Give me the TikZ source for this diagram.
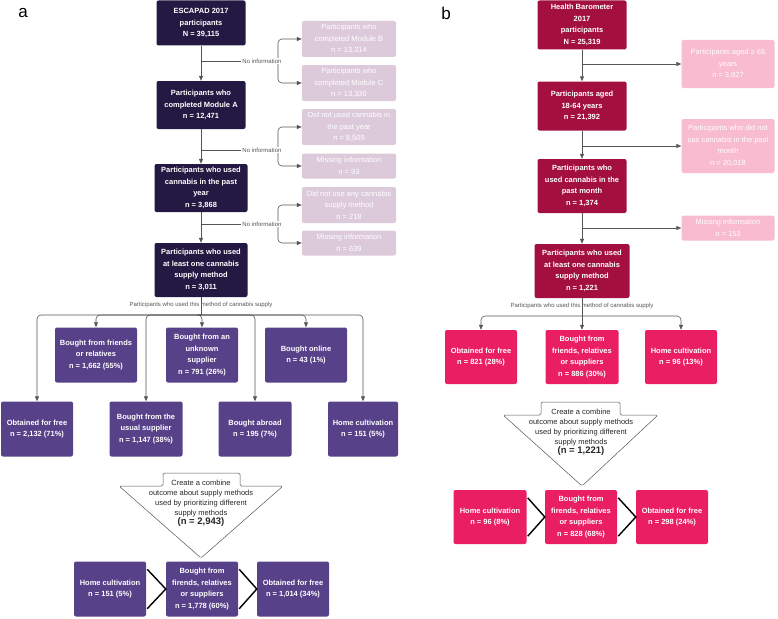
\documentclass[tikz,border=0pt]{standalone}
\usepackage{fontspec}
\setmainfont{Liberation Sans}
\usetikzlibrary{arrows.meta,calc}
\definecolor{navy}{HTML}{231942}
\definecolor{violet}{HTML}{574189}
\definecolor{lilac}{HTML}{DCCADB}
\definecolor{crimson}{HTML}{A3103F}
\definecolor{rose}{HTML}{E91E63}
\definecolor{blush}{HTML}{F8BBCF}
\definecolor{lineg}{HTML}{555555}
\tikzset{
	box/.style={rectangle, rounded corners=2pt, align=center, text=white, inner sep=1pt,
		font=\fontsize{7.5}{11.5}\selectfont\bfseries},
	mainbox/.style={box, fill=navy},
	subbox/.style={box, fill=violet, minimum width=72, minimum height=55},
	exbox/.style={box, fill=lilac, minimum width=94, font=\fontsize{7.5}{11.5}\selectfont},
	bmain/.style={box, fill=crimson},
	bsub/.style={box, fill=rose, minimum width=72, minimum height=54},
	bex/.style={box, fill=blush, minimum width=93, font=\fontsize{7.5}{11.5}\selectfont},
	link/.style={draw=lineg, line width=0.6pt},
	arr/.style={link, -{Triangle[length=5pt,width=4pt]}},
	chev/.style={draw=black, line width=1.4pt},
	note/.style={font=\fontsize{6}{7}\selectfont, text=lineg, inner sep=1pt},
	tri/.style={draw=lineg, line width=0.5pt, fill=white, rounded corners=1.5pt},
	tritext/.style={align=center, font=\fontsize{7.5}{10}\selectfont, text=black!85}
}
\begin{document}
\begin{tikzpicture}[x=1pt,y=-1pt]
	\useasboundingbox (0,0) rectangle (778,618);

	% ================= PANEL a =================
	\node[font=\fontsize{17}{17}\selectfont] (la) at (23,13) {a};

	% main chain
	\node[mainbox, minimum width=89, minimum height=45] (a0) at (201,23) {ESCAPAD 2017\\participants\\N = 39,115};
	\node[mainbox, minimum width=89, minimum height=48] (a1) at (201,105) {Participants who\\completed Module A\\n = 12,471};
	\node[mainbox, minimum width=93, minimum height=48] (a2) at (201,188) {Participants who used\\cannabis in the past\\year\\n = 3,868};
	\node[mainbox, minimum width=93, minimum height=54] (a3) at (201,270) {Participants who used\\at least one cannabis\\supply method\\n = 3,011};

	% excluded
	\node[exbox, minimum height=36] (p1) at (349,39) {Participants who\\completed Module B\\n = 13,314};
	\node[exbox, minimum height=36] (p2) at (349,83) {Participants who\\completed Module C\\n = 13,330};
	\node[exbox, minimum height=36] (p3) at (349,127) {Did not used cannabis in\\the past year\\n = 8,509};
	\node[exbox, minimum height=25] (p4) at (349,166) {Missing information\\n = 93};
	\node[exbox, minimum height=36] (p5) at (349,205) {Did not use any cannabis\\supply method\\n = 218};
	\node[exbox, minimum height=25] (p6) at (349,243) {Missing information\\n = 639};

	\draw[arr] (a0) -- (a1);
	\draw[arr] (a1) -- (a2);
	\draw[arr] (a2) -- (a3);

	% branches
	\foreach \y/\u/\v/\i in {61/p1/p2/1, 150/p3/p4/2, 224/p5/p6/3}{
		\coordinate (j\i) at (201,\y);
		\coordinate (k\i) at (278,\y);
		\draw[link] (j\i) -- (k\i);
		\draw[arr, rounded corners=4pt] (k\i) |- (\u);
		\draw[arr, rounded corners=4pt] (k\i) |- (\v);
		\node[note, fill=white] (ni\i) at (262,\y) {No information};
	}

	% supply methods
	\node[note] (ua) at (201,305) {Participants who used this method of cannabis supply};
	\coordinate (fa) at (201,315);
	\draw[link] (a3) -- (fa);

	\node[subbox, minimum width=82] (b1) at (96,355) {Bought from friends\\or relatives\\n = 1,662 (55\%)};
	\node[subbox] (b2) at (202,355) {Bought from an\\unknown\\supplier\\n = 791 (26\%)};
	\node[subbox, minimum width=82] (b3) at (306,355) {Bought online\\n = 43 (1\%)};
	\node[subbox] (c1) at (37,429) {Obtained for free\\n = 2,132 (71\%)};
	\node[subbox, minimum width=73] (c2) at (146,429) {Bought from the\\usual supplier\\n = 1,147 (38\%)};
	\node[subbox, minimum width=73] (c3) at (255,429) {Bought abroad\\n = 195 (7\%)};
	\node[subbox, minimum width=70] (c4) at (363,429) {Home cultivation\\n = 151 (5\%)};

	\foreach \t in {b1,b2,b3,c1,c2,c3,c4}
		\draw[arr, rounded corners=4pt] (fa) -| (\t);

	% combine
	\draw[tri] (163,486) -- (163,473) -- (240,473) -- (240,486) -- (283,486) -- (201,558) -- (119,486) -- cycle;
	\node[tritext] (ca) at (201,503) {Create a combine\\outcome about supply methods\\used by prioritizing different\\supply methods\\[-1pt]{\fontsize{9.5}{11}\selectfont\bfseries (n = 2,943)}};

	\node[subbox] (d1) at (110,589) {Home cultivation\\n = 151 (5\%)};
	\node[subbox] (d2) at (202,589) {Bought from\\firends, relatives\\or suppliers\\n = 1,778 (60\%)};
	\node[subbox] (d3) at (293,589) {Obtained for free\\n = 1,014 (34\%)};
	\draw[chev] (d1.north east) ++(1,8) -- (d2.west) -- ($(d1.south east)+(1,-8)$);
	\draw[chev] (d2.north east) ++(1,8) -- (d3.west) -- ($(d2.south east)+(1,-8)$);

	% ================= PANEL b =================
	\node[font=\fontsize{17}{17}\selectfont] (lb) at (446,13) {b};

	\node[bmain, minimum width=89, minimum height=49] (r0) at (582,25) {Health Barometer\\2017\\participants\\N = 25,319};
	\node[bmain, minimum width=89, minimum height=49] (r1) at (582,106) {Participants aged\\18-64 years\\n = 21,392};
	\node[bmain, minimum width=89, minimum height=54] (r2) at (582,186) {Participants who\\used cannabis in the\\past month\\n = 1,374};
	\node[bmain, minimum width=95, minimum height=54] (r3) at (582,271) {Participants who used\\at least one cannabis\\supply method\\n = 1,221};

	\node[bex, minimum height=48] (q1) at (728,64) {Participants aged ≥ 65\\years\\n = 3,927};
	\node[bex, minimum height=54] (q2) at (728,146) {Participants who did not\\use cannabis in the past\\month\\n = 20,018};
	\node[bex, minimum height=25] (q3) at (728,228) {Missing information\\n = 153};

	\draw[arr] (r0) -- (r1);
	\draw[arr] (r1) -- (r2);
	\draw[arr] (r2) -- (r3);
	\foreach \q/\i in {q1/4, q2/5, q3/6}{
		\coordinate (j\i) at (r0 |- \q);
		\draw[arr] (j\i) -- (\q);
	}

	\node[note] (ub) at (582,306) {Participants who used this method of cannabis supply};
	\coordinate (fb) at (582,316);
	\draw[link] (r3) -- (fb);

	\node[bsub] (e1) at (481,357) {Obtained for free\\n = 821 (28\%)};
	\node[bsub, minimum width=73] (e2) at (582,357) {Bought from\\friends, relatives\\or suppliers\\n = 886 (30\%)};
	\node[bsub] (e3) at (681,357) {Home cultivation\\n = 96 (13\%)};
	\foreach \t in {e1,e2,e3}
		\draw[arr, rounded corners=4pt] (fb) -| (\t);

	\draw[tri] (541,415) -- (541,402) -- (620,402) -- (620,415) -- (658,415) -- (582,486) -- (503,415) -- cycle;
	\node[tritext] (cb) at (581,432) {Create a combine\\outcome about supply methods\\used by prioritizing different\\supply methods\\[-1pt]{\fontsize{9.5}{11}\selectfont\bfseries (n = 1,221)}};

	\node[bsub, minimum width=73] (f1) at (490,517) {Home cultivation\\n = 96 (8\%)};
	\node[bsub] (f2) at (581,517) {Bought from\\firends, relatives\\or suppliers\\n = 828 (68\%)};
	\node[bsub] (f3) at (672,517) {Obtained for free\\n = 298 (24\%)};
	\draw[chev] (f1.north east) ++(1,8) -- (f2.west) -- ($(f1.south east)+(1,-8)$);
	\draw[chev] (f2.north east) ++(1,8) -- (f3.west) -- ($(f2.south east)+(1,-8)$);
\end{tikzpicture}
\end{document}
